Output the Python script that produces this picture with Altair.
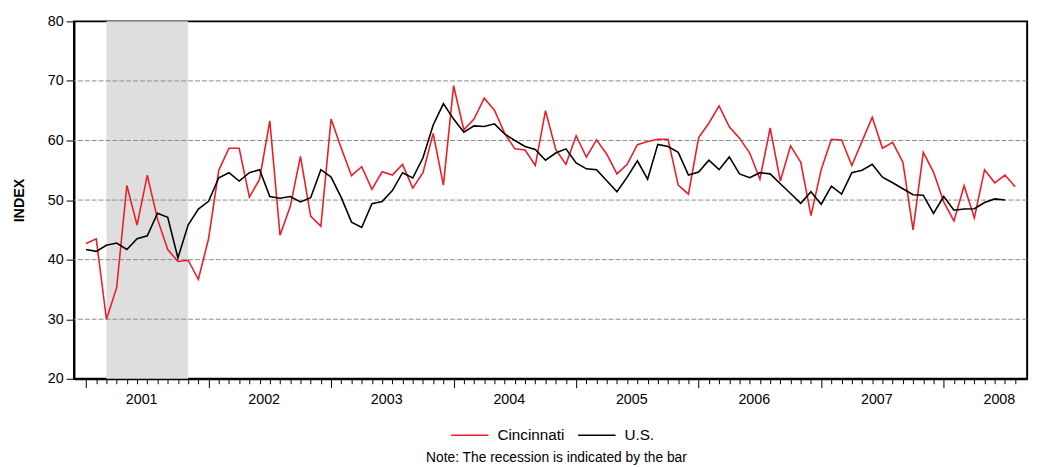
import altair as alt
import pandas as pd

# Monthly index (Jan 2001 = 0)
cincinnati = [42.7, 43.5, 30.0, 35.3, 52.45, 45.8, 54.2, 46.8, 41.7, 39.7, 39.9, 36.7,
              43.5, 55.0, 58.7, 58.7, 50.5, 53.5, 63.3, 44.1, 48.9, 57.35, 47.3, 45.6,
              63.6, 58.7, 54.1, 55.6, 51.8, 54.75, 54.2, 56.0, 52.0, 54.6, 61.2, 52.5,
              69.2, 61.8, 63.6, 67.1, 65.1, 61.2, 58.6, 58.4, 55.8, 65.0, 58.5, 56.0,
              60.8, 57.2, 60.1, 57.7, 54.4, 56.0, 59.3, 59.85, 60.2, 60.2, 52.5, 51.0,
              60.5, 62.9, 65.8, 62.3, 60.4, 57.9, 53.5, 62.1, 53.2, 59.1, 56.35, 47.4,
              55.1, 60.2, 60.1, 55.8, 59.85, 63.9, 58.7, 59.7, 56.35, 45.0, 58.0, 54.7,
              49.7, 46.5, 52.4, 47.0, 55.1, 52.9, 54.2, 52.25]
us = [41.7, 41.4, 42.4, 42.8, 41.7, 43.5, 44.0, 47.8, 47.1, 40.3, 45.8, 48.5,
      49.8, 53.75, 54.6, 53.2, 54.6, 55.1, 50.6, 50.3, 50.6, 49.7, 50.4, 55.1,
      53.85, 50.4, 46.3, 45.4, 49.4, 49.75, 51.6, 54.6, 53.7, 57.1, 62.6, 66.2,
      63.6, 61.4, 62.45, 62.35, 62.8, 61.1, 60.0, 59.0, 58.5, 56.7, 57.9, 58.6,
      56.25, 55.25, 55.1, 53.25, 51.4, 53.85, 56.6, 53.5, 59.35, 59.0, 58.0, 54.2,
      54.7, 56.7, 55.1, 57.25, 54.4, 53.75, 54.6, 54.4, 52.75, 51.1, 49.45, 51.4,
      49.3, 52.35, 51.0, 54.6, 55.0, 56.0, 53.85, 52.9, 51.9, 50.9, 50.8, 47.75,
      50.6, 48.3, 48.5, 48.55, 49.6, 50.2, 50.0]
series_names = ["Cincinnati", "U.S."]
series_colors = ["#EE1C25", "#000000"]
years = [2001, 2002, 2003, 2004, 2005, 2006, 2007, 2008]
recession_start = [2]   # Mar 2001
recession_end = [10]    # Nov 2001
grid_values = [30, 40, 50, 60, 70]
y_ticks = [20, 30, 40, 50, 60, 70, 80]

rows = []
for i, v in enumerate(cincinnati):
    rows.append({"t": i, "series": "Cincinnati", "value": v})
for i, v in enumerate(us):
    rows.append({"t": i, "series": "U.S.", "value": v})
df = pd.DataFrame(rows)

W, H = 968, 363
FONT = "Liberation Sans"
xscale = alt.Scale(domain=[-1.18, 92.17], nice=False, zero=False)
yscale = alt.Scale(domain=[20, 80], nice=False, zero=False)


def xaxis():
    return alt.Axis(values=list(range(0, 92)), labels=False, title=None,
                    tickSize={"condition": {"test": "datum.value % 12 === 0", "value": 9}, "value": 5},
                    tickColor="black", tickWidth=1, domainColor="black", domainWidth=2,
                    grid=False)


def yaxis():
    return alt.Axis(values=y_ticks, title="INDEX", grid=False, tickSize=8,
                    tickColor="black", tickWidth=1, domainColor="black", domainWidth=2,
                    labelFont=FONT, labelFontSize=14.5, labelColor="black", labelPadding=3,
                    titleFont=FONT, titleFontSize=14.5, titleFontWeight="bold",
                    titleColor="black", titleAngle=270, titleX=-55, titleY=H / 2,
                    titleAlign="center", titleBaseline="middle")


rec = alt.Chart(pd.DataFrame({"s": recession_start, "e": recession_end})).mark_rect(
    color="#DEDEDE").encode(
    x=alt.X("s:Q", scale=xscale, axis=xaxis(), title=None),
    x2="e:Q",
)

grid = alt.Chart(pd.DataFrame({"g": grid_values})).mark_rule(
    color="#8A8A8A", strokeWidth=1, strokeDash=[5, 2]).encode(
    y=alt.Y("g:Q", scale=yscale, axis=yaxis(), title="INDEX")
)

lines = alt.Chart(df).mark_line(strokeWidth=1.6).encode(
    x=alt.X("t:Q", scale=xscale, axis=xaxis(), title=None),
    y=alt.Y("value:Q", scale=yscale, axis=yaxis(), title="INDEX"),
    color=alt.Color("series:N", scale=alt.Scale(domain=series_names, range=series_colors),
                    legend=alt.Legend(title=None, orient="none", direction="horizontal",
                                      legendX=382, legendY=400, symbolType="stroke",
                                      symbolSize=1444, symbolStrokeWidth=1.6,
                                      labelFont=FONT, labelFontSize=15.5, labelColor="black",
                                      labelOffset=8, columnPadding=9, padding=0)),
)

year_df = pd.DataFrame({"year": [str(y) for y in years],
                        "pos": [5.45 + 12 * k for k in range(len(years))]})
year_labels = alt.Chart(year_df).mark_text(
    font=FONT, fontSize=14.5, color="black", baseline="middle").encode(
    x=alt.X("pos:Q", scale=xscale, axis=xaxis(), title=None),
    y=alt.value(H + 22),
    text="year:N",
)

note = alt.Chart(pd.DataFrame({"note": ["Note: The recession is indicated by the bar"]})).mark_text(
    font=FONT, fontSize=14, color="black", baseline="middle").encode(
    x=alt.value(490), y=alt.value(443), text="note:N")

chart = alt.layer(rec, grid, lines, year_labels, note).properties(
    width=W, height=H,
    autosize=alt.AutoSizeParams(type="none"),
    padding={"left": 67, "top": 10, "right": 9, "bottom": 86},
).configure_view(stroke="black", strokeWidth=2).configure_axis(
    labelFont=FONT, titleFont=FONT)

chart.save("out.html", embed_options={"renderer": "svg", "actions": False})
